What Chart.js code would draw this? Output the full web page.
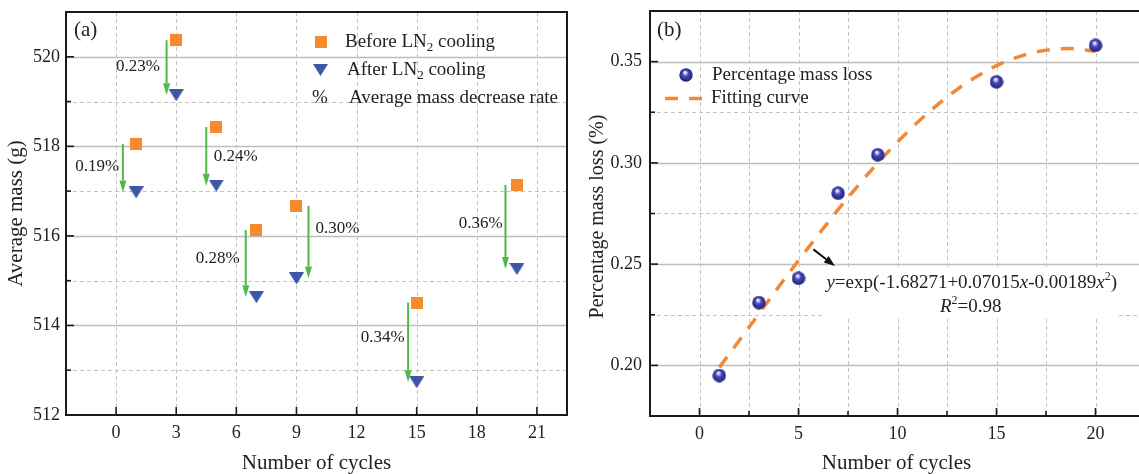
<!DOCTYPE html>
<html><head><meta charset="utf-8">
<script src="https://cdn.jsdelivr.net/npm/chart.js@4.4.1/dist/chart.umd.min.js"></script>
<style>
html,body{margin:0;padding:0;background:#fff;overflow:hidden;width:1139px;height:474px;position:relative;}
#ca{position:absolute;left:0;top:0;}
#cb{position:absolute;left:570px;top:0;}
</style></head><body>
<canvas id="ca" width="580" height="474" style="width:580px;height:474px"></canvas>
<canvas id="cb" width="600" height="474" style="width:600px;height:474px"></canvas>
<script>
// ---------- data (a) ----------
const cycles = [1, 3, 5, 7, 9, 15, 20];
const massBefore = [518.05, 520.37, 518.43, 516.13, 516.67, 514.51, 517.14];
const massAfter  = [516.97, 519.14, 517.12, 514.63, 515.05, 512.73, 515.26];
const decreaseLabels = ['0.19%', '0.23%', '0.24%', '0.28%', '0.30%', '0.34%', '0.36%'];
const arrowOffsets = [-0.66, -0.48, -0.50, -0.53, 0.60, -0.43, -0.57];
const labelX = [-0.94, 1.09, 5.97, 5.07, 11.04, 13.30, 18.20];
const labelY = [517.55, 519.79, 517.77, 515.50, 516.17, 513.74, 516.27];
const xTicksA = [0, 3, 6, 9, 12, 15, 18, 21];
const yTicksA = [512, 514, 516, 518, 520];
const yMinorA = [513, 515, 517, 519];

// ---------- data (b) ----------
const massLoss = [0.195, 0.231, 0.243, 0.285, 0.304, 0.340, 0.358];
const fitX = [1, 2, 3, 4, 5, 6, 7, 8, 9, 10, 11, 12, 13, 14, 15, 16, 17, 18, 19, 20];
const fitY = [0.1990, 0.2122, 0.2255, 0.2388, 0.2518, 0.2645, 0.2769, 0.2887, 0.2999, 0.3103,
              0.3199, 0.3285, 0.3362, 0.3426, 0.3480, 0.3520, 0.3548, 0.3562, 0.3563, 0.3550];
const xTicksB = [0, 5, 10, 15, 20];
const xMinorB = [2.5, 7.5, 12.5, 17.5];
const yTicksB = [0.20, 0.25, 0.30, 0.35];
const yMinorB = [0.225, 0.275, 0.325];
const fitArrowFrom = [5.75, 0.2573];
const fitArrowTo = [6.84, 0.2491];
const eqPos = [13.75, 0.2408];
const r2Pos = [13.70, 0.2290];

const FONT = '"Liberation Serif", "Times New Roman", serif';
Chart.defaults.font.family = FONT;
Chart.defaults.color = '#222';

const ORANGE = '#F58A2E', BLUE = '#3D56A6', GREEN = '#52B947', CURVE = '#F28734';

function mkSquare(s, col) {
  const c = document.createElement('canvas'); c.width = s; c.height = s;
  const g = c.getContext('2d'); g.fillStyle = col; g.fillRect(0, 0, s, s); return c;
}
function mkTri(w, h, col) {
  const c = document.createElement('canvas'); c.width = w; c.height = h;
  const g = c.getContext('2d'); g.fillStyle = col;
  g.beginPath(); g.moveTo(0, 0); g.lineTo(w, 0); g.lineTo(w / 2, h); g.closePath(); g.fill(); return c;
}
function mkSphere(d) {
  const c = document.createElement('canvas'); c.width = d; c.height = d;
  const g = c.getContext('2d'); const r = d / 2;
  const gr = g.createRadialGradient(r - 1, r - 2.8, 0.3, r, r, r);
  gr.addColorStop(0, '#ffffff'); gr.addColorStop(0.14, '#cfd0f4');
  gr.addColorStop(0.4, '#4a4ab6'); gr.addColorStop(0.8, '#2b2b92'); gr.addColorStop(1, '#1f1f6c');
  g.fillStyle = gr; g.beginPath(); g.arc(r, r, r - 0.3, 0, Math.PI * 2); g.fill(); return c;
}
const sqImg = mkSquare(12, ORANGE);
const triImg = mkTri(15, 12, BLUE);
const sphImg = mkSphere(14);

function hline(ctx, x1, x2, y) { ctx.beginPath(); ctx.moveTo(x1, y); ctx.lineTo(x2, y); ctx.stroke(); }
function vline(ctx, x, y1, y2) { ctx.beginPath(); ctx.moveTo(x, y1); ctx.lineTo(x, y2); ctx.stroke(); }
function arrow(ctx, x1, y1, x2, y2, col, lw, hl, hw) {
  const ang = Math.atan2(y2 - y1, x2 - x1);
  const bx = x2 - Math.cos(ang) * hl, by = y2 - Math.sin(ang) * hl;
  ctx.save(); ctx.strokeStyle = col; ctx.fillStyle = col; ctx.lineWidth = lw; ctx.setLineDash([]);
  ctx.beginPath(); ctx.moveTo(x1, y1); ctx.lineTo(bx, by); ctx.stroke();
  ctx.beginPath(); ctx.moveTo(x2, y2);
  ctx.lineTo(bx + Math.sin(ang) * hw, by - Math.cos(ang) * hw);
  ctx.lineTo(bx - Math.sin(ang) * hw, by + Math.cos(ang) * hw);
  ctx.closePath(); ctx.fill(); ctx.restore();
}
function subText(ctx, x, y, a, sub, b, size) {
  ctx.font = size + 'px ' + FONT; ctx.fillText(a, x, y);
  let w = ctx.measureText(a).width;
  ctx.font = Math.round(size * 0.68) + 'px ' + FONT; ctx.fillText(sub, x + w, y + size * 0.28);
  w += ctx.measureText(sub).width;
  ctx.font = size + 'px ' + FONT; ctx.fillText(b, x + w, y);
}
function drawPieces(ctx, cx, y, pieces, size) {
  const fonts = { n: size + 'px ' + FONT, i: 'italic ' + size + 'px ' + FONT, s: Math.round(size * 0.63) + 'px ' + FONT };
  let tot = 0;
  pieces.forEach(p => { ctx.font = fonts[p[1]]; tot += ctx.measureText(p[0]).width; });
  let x = cx - tot / 2;
  ctx.textAlign = 'left';
  pieces.forEach(p => { ctx.font = fonts[p[1]]; ctx.fillText(p[0], x, p[1] === 's' ? y - size * 0.33 : y); x += ctx.measureText(p[0]).width; });
  return [cx - tot / 2, cx + tot / 2];
}

function gridAndFrame(chart, xMaj, xMin, yMaj, yMin, phase) {
  const { ctx, chartArea: a, scales: { x, y } } = chart;
  ctx.save();
  if (phase === 'grid') {
    ctx.strokeStyle = '#bdbdbd'; ctx.lineWidth = 1.3;
    yMaj.forEach(v => { const p = Math.round(y.getPixelForValue(v)) + 0.5; if (p < a.bottom - 2) hline(ctx, a.left, a.right, p); });
    ctx.setLineDash([4, 3]); ctx.strokeStyle = '#c4c4c4'; ctx.lineWidth = 1;
    yMin.forEach(v => { const p = Math.round(y.getPixelForValue(v)) + 0.5; hline(ctx, a.left, a.right, p); });
    xMaj.concat(xMin).forEach(v => { const p = Math.round(x.getPixelForValue(v)) + 0.5; vline(ctx, p, a.top, a.bottom); });
  } else {
    ctx.setLineDash([]); ctx.strokeStyle = '#1a1a1a'; ctx.lineWidth = 2;
    ctx.strokeRect(a.left, a.top, a.right - a.left, a.bottom - a.top);
    ctx.lineWidth = 1.6;
    yMaj.forEach(v => { const p = y.getPixelForValue(v); hline(ctx, a.left, a.left + 8, p); });
    yMin.forEach(v => { const p = y.getPixelForValue(v); hline(ctx, a.left, a.left + 5, p); });
    xMaj.forEach(v => { const p = x.getPixelForValue(v); vline(ctx, p, a.bottom, a.bottom - 8); });
    xMin.forEach(v => { const p = x.getPixelForValue(v); vline(ctx, p, a.bottom, a.bottom - 5); });
  }
  ctx.restore();
}
function noPad(s) { s.paddingTop = 0; s.paddingBottom = 0; s.paddingLeft = 0; s.paddingRight = 0; }

// ---------- chart (a) ----------
const pluginA = {
  id: 'pa',
  beforeDatasetsDraw(chart) { gridAndFrame(chart, xTicksA, [], yTicksA, yMinorA, 'grid'); },
  afterDatasetsDraw(chart) {
    const { ctx, chartArea: a, scales: { x, y } } = chart;
    cycles.forEach((c, i) => {
      const px = x.getPixelForValue(c + arrowOffsets[i]);
      arrow(ctx, px, y.getPixelForValue(massBefore[i]), px, y.getPixelForValue(massAfter[i]), GREEN, 2, 12, 3.5);
    });
    ctx.save(); ctx.fillStyle = '#222'; ctx.font = '17px ' + FONT; ctx.textAlign = 'center'; ctx.textBaseline = 'middle';
    decreaseLabels.forEach((t, i) => ctx.fillText(t, x.getPixelForValue(labelX[i]), y.getPixelForValue(labelY[i])));
    ctx.restore();
    gridAndFrame(chart, xTicksA, [], yTicksA, yMinorA, 'frame');
  },
  afterDraw(chart) {
    const { ctx, chartArea: a } = chart;
    ctx.save(); ctx.fillStyle = '#222'; ctx.textBaseline = 'middle';
    ctx.font = '21px ' + FONT; ctx.textAlign = 'left'; ctx.fillText('(a)', a.left + 8, a.top + 18);
    // legend
    ctx.drawImage(sqImg, a.left + 249, a.top + 24);
    ctx.drawImage(triImg, a.left + 247, a.top + 52);
    ctx.font = '19px ' + FONT; ctx.textAlign = 'center'; ctx.fillText('%', a.left + 254, a.top + 86.5);
    ctx.textAlign = 'left';
    subText(ctx, a.left + 279, a.top + 30, 'Before LN', '2', ' cooling', 19);
    subText(ctx, a.left + 281, a.top + 58.5, 'After LN', '2', ' cooling', 19);
    ctx.font = '19px ' + FONT; ctx.fillText('Average mass decrease rate', a.left + 283, a.top + 86.5);
    // axis titles
    ctx.font = '21px ' + FONT; ctx.textAlign = 'center';
    ctx.fillText('Number of cycles', (a.left + a.right) / 2, a.bottom + 48);
    ctx.translate(a.left - 50, (a.top + a.bottom) / 2); ctx.rotate(-Math.PI / 2);
    ctx.fillText('Average mass (g)', 0, 0);
    ctx.restore();
  }
};

new Chart(document.getElementById('ca'), {
  type: 'scatter',
  data: {
    datasets: [
      { label: 'Before LN2 cooling', data: cycles.map((c, i) => ({ x: c, y: massBefore[i] })), pointStyle: sqImg, pointRadius: 7 },
      { label: 'After LN2 cooling', data: cycles.map((c, i) => ({ x: c, y: massAfter[i] })), pointStyle: triImg, pointRadius: 7 }
    ]
  },
  options: {
    responsive: false, animation: false, devicePixelRatio: 1,
    layout: { padding: { left: 0, right: 13, top: 12, bottom: 0 } },
    plugins: { legend: { display: false }, tooltip: { enabled: false } },
    scales: {
      x: {
        type: 'linear', min: -2.5, max: 22.5,
        afterBuildTicks: s => { s.ticks = xTicksA.map(v => ({ value: v })); },
        afterFit: s => { s.height = 59; noPad(s); },
        grid: { display: false, drawTicks: false }, border: { display: false },
        ticks: { padding: 7, font: { size: 18 }, color: '#222', callback: v => String(v) }
      },
      y: {
        type: 'linear', min: 512, max: 521,
        afterBuildTicks: s => { s.ticks = yTicksA.map(v => ({ value: v })); },
        afterFit: s => { s.width = 66; noPad(s); },
        grid: { display: false, drawTicks: false }, border: { display: false },
        ticks: { padding: 6, font: { size: 18 }, color: '#222', callback: v => String(v) }
      }
    }
  },
  plugins: [pluginA]
});

// ---------- chart (b) ----------
const pluginB = {
  id: 'pb',
  beforeDatasetsDraw(chart) {
    gridAndFrame(chart, xTicksB, xMinorB, yTicksB, yMinorB, 'grid');
    const { ctx, scales: { x, y } } = chart;
    const ex = x.getPixelForValue(eqPos[0]), ey = y.getPixelForValue(eqPos[1]), ry = y.getPixelForValue(r2Pos[1]);
    ctx.save(); ctx.fillStyle = '#fff';
    ctx.fillRect(ex - 150, ey - 15, 296, ry - ey + 26);
    ctx.restore();
  },
  afterDatasetsDraw(chart) {
    const { ctx, scales: { x, y } } = chart;
    gridAndFrame(chart, xTicksB, xMinorB, yTicksB, yMinorB, 'frame');
    arrow(ctx, x.getPixelForValue(fitArrowFrom[0]), y.getPixelForValue(fitArrowFrom[1]),
      x.getPixelForValue(fitArrowTo[0]), y.getPixelForValue(fitArrowTo[1]), '#111', 2, 11, 4);
    ctx.save(); ctx.fillStyle = '#222'; ctx.textBaseline = 'middle';
    drawPieces(ctx, x.getPixelForValue(eqPos[0]), y.getPixelForValue(eqPos[1]),
      [['y', 'i'], ['=exp(-1.68271+0.07015', 'n'], ['x', 'i'], ['-0.00189', 'n'], ['x', 'i'], ['2', 's'], [')', 'n']], 19);
    drawPieces(ctx, x.getPixelForValue(r2Pos[0]), y.getPixelForValue(r2Pos[1]),
      [['R', 'i'], ['2', 's'], ['=0.98', 'n']], 19);
    ctx.restore();
  },
  afterDraw(chart) {
    const { ctx, chartArea: a } = chart;
    ctx.save(); ctx.fillStyle = '#222'; ctx.textBaseline = 'middle';
    ctx.font = '21px ' + FONT; ctx.textAlign = 'left'; ctx.fillText('(b)', a.left + 7, a.top + 19);
    ctx.drawImage(sphImg, a.left + 29, a.top + 57);
    ctx.font = '19px ' + FONT; ctx.fillText('Percentage mass loss', a.left + 62, a.top + 64);
    ctx.strokeStyle = CURVE; ctx.lineWidth = 3.5; ctx.setLineDash([13, 11]);
    hline(ctx, a.left + 15, a.left + 58, a.top + 87.5); ctx.setLineDash([]);
    ctx.fillText('Fitting curve', a.left + 61, a.top + 87.5);
    ctx.font = '21px ' + FONT; ctx.textAlign = 'center';
    ctx.fillText('Number of cycles', (a.left + 1139 - 570) / 2 + 2, a.bottom + 47);
    ctx.font = '20px ' + FONT;
    ctx.translate(a.left - 52, (a.top + a.bottom) / 2 + 3); ctx.rotate(-Math.PI / 2);
    ctx.fillText('Percentage mass loss (%)', 0, 0);
    ctx.restore();
  }
};

new Chart(document.getElementById('cb'), {
  type: 'scatter',
  data: {
    datasets: [
      { label: 'Percentage mass loss', data: cycles.map((c, i) => ({ x: c, y: massLoss[i] })), pointStyle: sphImg, pointRadius: 7 },
      { label: 'Fitting curve', data: fitX.map((v, i) => ({ x: v, y: fitY[i] })), showLine: true, pointRadius: 0,
        borderColor: CURVE, borderWidth: 3.5, borderDash: [13, 11], tension: 0.35, borderCapStyle: 'butt' }
    ]
  },
  options: {
    responsive: false, animation: false, devicePixelRatio: 1,
    layout: { padding: { left: 0, right: 25, top: 11, bottom: 0 } },
    plugins: { legend: { display: false }, tooltip: { enabled: false } },
    scales: {
      x: {
        type: 'linear', min: -2.5, max: 22.5,
        afterBuildTicks: s => { s.ticks = xTicksB.map(v => ({ value: v })); },
        afterFit: s => { s.height = 58; noPad(s); },
        grid: { display: false, drawTicks: false }, border: { display: false },
        ticks: { padding: 7, font: { size: 18 }, color: '#222', callback: v => String(v) }
      },
      y: {
        type: 'linear', min: 0.175, max: 0.375,
        afterBuildTicks: s => { s.ticks = yTicksB.map(v => ({ value: v })); },
        afterFit: s => { s.width = 80; noPad(s); },
        grid: { display: false, drawTicks: false }, border: { display: false },
        ticks: { padding: 8, font: { size: 18 }, color: '#222', callback: v => v.toFixed(2) }
      }
    }
  },
  plugins: [pluginB]
});
</script>
</body></html>
